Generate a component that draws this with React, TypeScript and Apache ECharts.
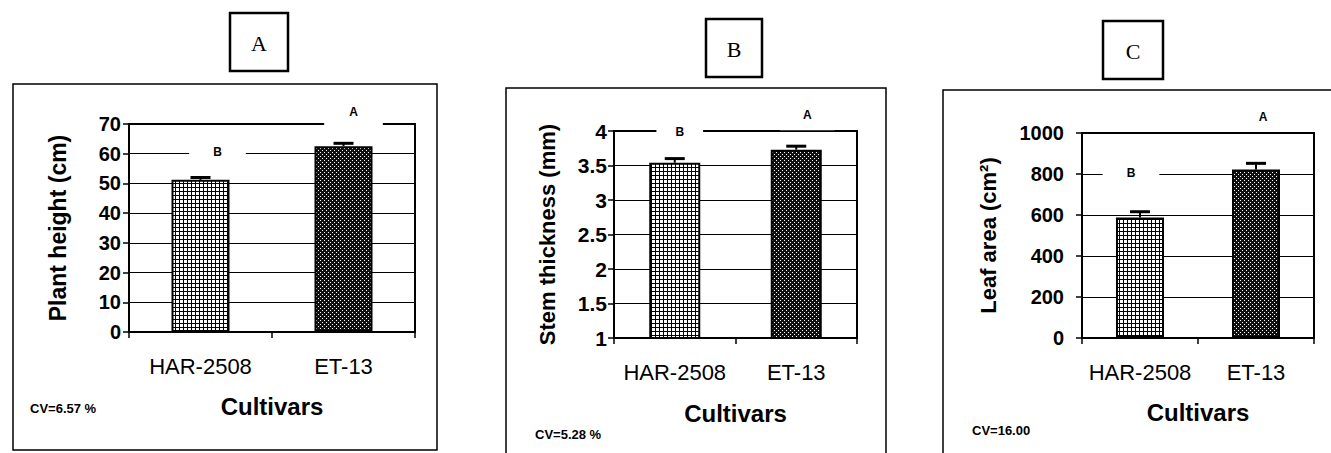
import React, { useEffect, useRef } from 'react';
import * as echarts from 'echarts';

// ---------- data ----------
const categories = ['HAR-2508', 'ET-13'];

const plantHeight = [51.2, 62.5];
const plantHeightErr = [0.8, 1.0];
const stemThickness = [3.54, 3.73];
const stemThicknessErr = [0.06, 0.05];
const leafArea = [588, 822];
const leafAreaErr = [28, 30];

const letters = ['B', 'A'];
const plantHeightLetterAt = [60.5, 74];
const stemLetterAt = [3.98, 4.23];
const leafLetterAt = [805, 1078];

const panelTitles = ['A', 'B', 'C'];
const yAxisNames = ['Plant height (cm)', 'Stem thickness (mm)', 'Leaf area (cm²)'];
const xAxisName = 'Cultivars';
const cvTexts = ['CV=6.57 %', 'CV=5.28 %', 'CV=16.00'];

const yMin = [0, 1, 0];
const yMax = [70, 4, 1000];
const yInterval = [10, 0.5, 200];

// ---------- layout ----------
const SANS = '"Liberation Sans", Arial, sans-serif';
const SERIF = '"Liberation Serif", "Times New Roman", serif';

const grids = [
  { left: 129, top: 124, width: 286, height: 208 },
  { left: 614, top: 131, width: 243, height: 207 },
  { left: 1082, top: 133, width: 232, height: 205 },
];
const barWidths = [58, 51, 48];
const tickFont = [20, 21, 20];
const tickMargin = [8, 7, 18];
const yNameFont = [23, 22, 22];
const yNameGap = [60, 56, 83];
const xNameGap = [62, 63, 62];
const letterOffsets = [
  [[17, 0], [10, 0]],
  [[5, 0], [11, 0]],
  [[-9, 0], [7, 0]],
];
const letterPadX = [
  [24, 25],
  [19, 23],
  [24, 26],
];
const frames = [
  { x: 13, y: 84, w: 424, h: 366 },
  { x: 506, y: 88, w: 380, h: 400 },
  { x: 943, y: 90, w: 420, h: 400 },
];
const titleBoxes = [
  { x: 230, y: 13, w: 58, h: 58 },
  { x: 706, y: 19, w: 56, h: 58 },
  { x: 1103, y: 21, w: 60, h: 58 },
];
const cvPos = [
  { x: 30, y: 408 },
  { x: 535, y: 434 },
  { x: 972, y: 430 },
];

function makeGridPattern(): HTMLCanvasElement {
  const c = document.createElement('canvas');
  c.width = 4;
  c.height = 4;
  const g = c.getContext('2d')!;
  g.fillStyle = '#ffffff';
  g.fillRect(0, 0, 4, 4);
  g.fillStyle = '#000000';
  g.fillRect(0, 3, 4, 1);
  g.fillRect(3, 0, 1, 4);
  return c;
}

function makeDotPattern(): HTMLCanvasElement {
  const c = document.createElement('canvas');
  c.width = 4;
  c.height = 4;
  const g = c.getContext('2d')!;
  g.fillStyle = '#111111';
  g.fillRect(0, 0, 4, 4);
  g.fillStyle = '#ffffff';
  g.fillRect(0, 0, 1, 1);
  g.fillRect(2, 2, 1, 1);
  return c;
}

export default function App() {
  const ref = useRef<HTMLDivElement>(null);

  useEffect(() => {
    if (!ref.current) return;
    const chart = echarts.init(ref.current, undefined, { renderer: 'svg' });

    const gridPat = makeGridPattern();
    const dotPat = makeDotPattern();
    const fills = [
      { image: gridPat, repeat: 'repeat', imageWidth: 4, imageHeight: 4 },
      { image: dotPat, repeat: 'repeat', imageWidth: 4, imageHeight: 4 },
    ];

    const valueSets = [plantHeight, stemThickness, leafArea];
    const errSets = [plantHeightErr, stemThicknessErr, leafAreaErr];
    const letterSets = [plantHeightLetterAt, stemLetterAt, leafLetterAt];

    const series: any[] = [];
    valueSets.forEach((vals, i) => {
      series.push({
        type: 'bar',
        xAxisIndex: i,
        yAxisIndex: i,
        barWidth: barWidths[i],
        data: vals.map((v, k) => ({
          value: v,
          itemStyle: { color: fills[k] as any, borderColor: '#000', borderWidth: 2 },
        })),
        z: 3,
      });
      series.push({
        type: 'custom',
        xAxisIndex: i,
        yAxisIndex: i,
        silent: true,
        z: 6,
        data: vals.map((v, k) => [k, v, errSets[i][k]]),
        renderItem: (_p: any, api: any) => {
          const x = api.value(0);
          const v = api.value(1);
          const e = api.value(2);
          const base = api.coord([x, v]);
          const top = api.coord([x, v + e]);
          return {
            type: 'group',
            children: [
              {
                type: 'line',
                shape: { x1: base[0], y1: base[1], x2: top[0], y2: top[1] },
                style: { stroke: '#000', lineWidth: 2 },
              },
              {
                type: 'line',
                shape: { x1: top[0] - 10, y1: top[1], x2: top[0] + 10, y2: top[1] },
                style: { stroke: '#000', lineWidth: 3 },
              },
            ],
          };
        },
      });
      series.push({
        type: 'scatter',
        xAxisIndex: i,
        yAxisIndex: i,
        symbolSize: 1,
        clip: false,
        silent: true,
        z: 8,
        itemStyle: { color: 'rgba(255,255,255,0)', opacity: 1 },
        emphasis: { disabled: true },
        data: letterSets[i].map((p, k) => ({
          value: [k, p],
          label: {
            offset: letterOffsets[i][k],
            padding: [9, letterPadX[i][k]],
          },
        })),
        label: {
          show: true,
          position: 'inside',
          formatter: (p: any) => letters[p.dataIndex],
          color: '#000',
          opacity: 1,
          fontFamily: SANS,
          fontWeight: 'bold',
          fontSize: 12,
          backgroundColor: '#ffffff',
          textBorderWidth: 0,
        },
      });
    });

    const graphics: any[] = [];
    frames.forEach((f) => {
      graphics.push({
        type: 'rect',
        shape: { x: f.x, y: f.y, width: f.w, height: f.h },
        style: { fill: 'none', stroke: '#000', lineWidth: 1.5 },
        z: -10,
        silent: true,
      });
    });
    titleBoxes.forEach((b, i) => {
      graphics.push({
        type: 'rect',
        shape: { x: b.x, y: b.y, width: b.w, height: b.h },
        style: { fill: '#fff', stroke: '#000', lineWidth: 2.5 },
        silent: true,
      });
      graphics.push({
        type: 'text',
        x: b.x + b.w / 2,
        y: b.y + b.h / 2 + 1,
        style: {
          text: panelTitles[i],
          fill: '#000',
          font: `22px ${SERIF}`,
          align: 'center',
          verticalAlign: 'middle',
        },
        silent: true,
      });
    });
    cvPos.forEach((c, i) => {
      graphics.push({
        type: 'text',
        x: c.x,
        y: c.y,
        style: {
          text: cvTexts[i],
          fill: '#000',
          font: `bold 13px ${SANS}`,
          align: 'left',
          verticalAlign: 'middle',
        },
        silent: true,
      });
    });

    chart.setOption({
      animation: false,
      backgroundColor: '#fff',
      grid: grids.map((g) => ({
        ...g,
        show: true,
        borderColor: '#000',
        borderWidth: 2,
        backgroundColor: 'transparent',
        containLabel: false,
      })),
      xAxis: grids.map((_g, i) => ({
        type: 'category',
        gridIndex: i,
        data: categories,
        boundaryGap: true,
        name: xAxisName,
        nameLocation: 'middle',
        nameGap: xNameGap[i],
        nameTextStyle: { fontFamily: SANS, fontWeight: 'bold', fontSize: 24, color: '#000' },
        axisLine: { show: true, lineStyle: { color: '#000', width: 1.5 } },
        axisTick: { show: true, interval: 0, alignWithLabel: false, length: 6, lineStyle: { color: '#000', width: 1.5 } },
        axisLabel: { interval: 0, margin: 23, fontFamily: SANS, fontSize: 22, color: '#000' },
        splitLine: { show: false },
      })),
      yAxis: grids.map((_g, i) => ({
        type: 'value',
        gridIndex: i,
        min: yMin[i],
        max: yMax[i],
        interval: yInterval[i],
        name: yAxisNames[i],
        nameLocation: 'middle',
        nameGap: yNameGap[i],
        nameRotate: 90,
        nameTextStyle: { fontFamily: SANS, fontWeight: 'bold', fontSize: yNameFont[i], color: '#000' },
        axisLine: { show: true, lineStyle: { color: '#000', width: 1.5 } },
        axisTick: { show: true, length: 6, lineStyle: { color: '#000', width: 1.5 } },
        axisLabel: {
          margin: tickMargin[i],
          fontFamily: SANS,
          fontWeight: 'bold',
          fontSize: tickFont[i],
          color: '#000',
          formatter: (v: number) => String(v),
        },
        splitLine: { show: true, lineStyle: { color: '#000', width: 1.2 } },
      })),
      graphic: graphics,
      series,
    });

    return () => chart.dispose();
  }, []);

  return (
    <div
      ref={ref}
      style={{ position: 'absolute', left: 0, top: 0, width: 1331, height: 453, background: '#fff' }}
    />
  );
}
